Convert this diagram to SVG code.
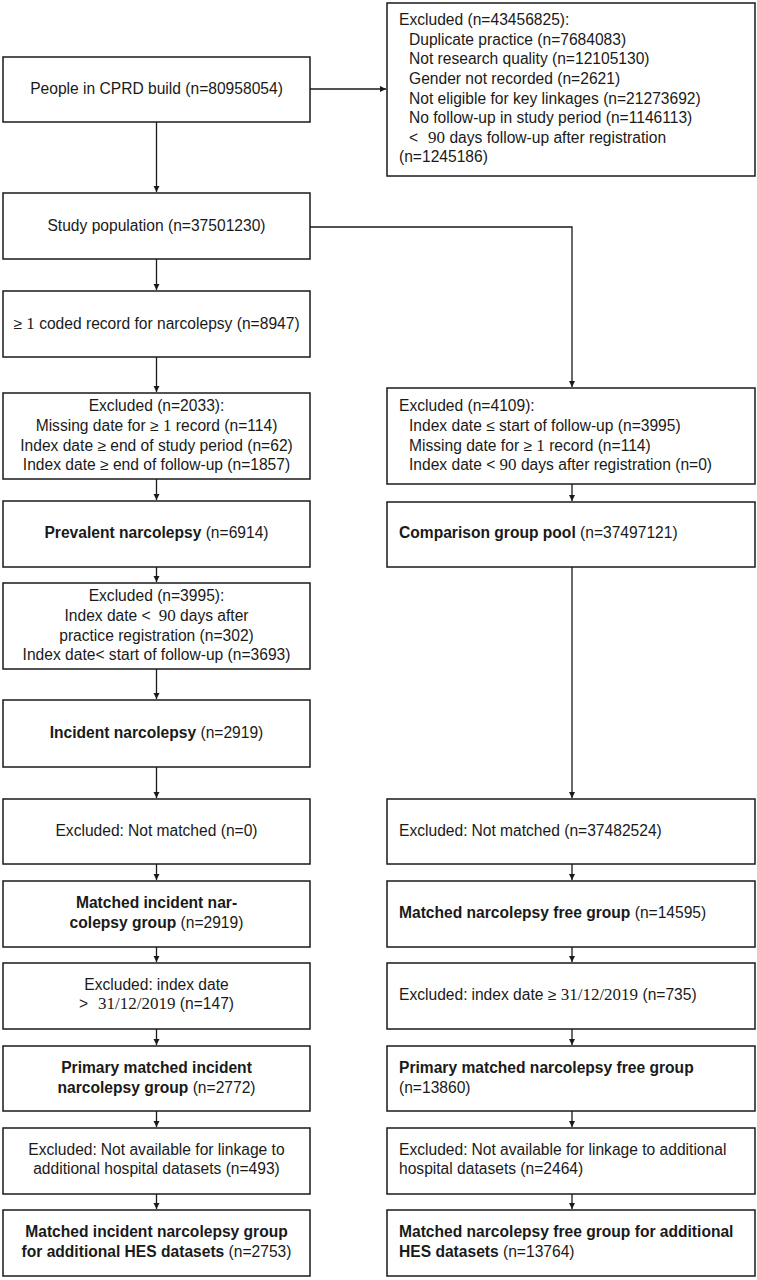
<svg xmlns="http://www.w3.org/2000/svg" width="757" height="1280" viewBox="0 0 757 1280">
<defs>
<style>
.box{fill:#fff;stroke:#1a1a1a;stroke-width:1.5}
.t{font-family:"Liberation Sans",Arial,sans-serif;font-size:15.6px;fill:#1a1a1a}
.c{text-anchor:middle}
.b{font-weight:bold}
.m{font-family:"Liberation Serif","Times New Roman",serif;font-size:17px}
.conn path{fill:none;stroke:#1a1a1a;stroke-width:1.3;marker-end:url(#arr)}
</style>
<marker id="arr" markerUnits="userSpaceOnUse" markerWidth="8" markerHeight="8" refX="6" refY="3" orient="auto">
<path d="M0,0 L6,3 L0,6 Z" fill="#1a1a1a"/>
</marker>
</defs>
<rect width="757" height="1280" fill="#fff"/>

<g id="connectors" class="conn">
<path d="M310,89 H386"/>
<path d="M156.5,122 V192"/>
<path d="M310,227 H572 V387"/>
<path d="M156.5,259 V290"/>
<path d="M156.5,357 V392"/>
<path d="M156.5,479 V500"/>
<path d="M572,484 V501"/>
<path d="M156.5,567 V582"/>
<path d="M156.5,669 V699"/>
<path d="M156.5,767 V798"/>
<path d="M572,567 V798"/>
<path d="M156.5,864 V880"/>
<path d="M572,864 V880"/>
<path d="M156.5,947 V962"/>
<path d="M572,947 V962"/>
<path d="M156.5,1029 V1045"/>
<path d="M572,1029 V1045"/>
<path d="M156.5,1111 V1127"/>
<path d="M572,1111 V1127"/>
<path d="M156.5,1194 V1209"/>
<path d="M572,1194 V1209"/>
</g>

<g id="n-cprd">
<rect class="box" x="3" y="57" width="307" height="65"/>
<text class="t c" x="156.5" y="94">People in CPRD build (n=80958054)</text>
</g>

<g id="n-excl1">
<rect class="box" x="387" y="3" width="368" height="173"/>
<text class="t" x="399" y="25">Excluded (n=43456825):</text>
<text class="t" x="409" y="45">Duplicate practice (n=7684083)</text>
<text class="t" x="409" y="64">Not research quality (n=12105130)</text>
<text class="t" x="409" y="84">Gender not recorded (n=2621)</text>
<text class="t" x="409" y="104">Not eligible for key linkages (n=21273692)</text>
<text class="t" x="409" y="123">No follow-up in study period (n=1146113)</text>
<text class="t" x="409" y="143">&lt;<tspan class="m" dx="10">90</tspan> days follow-up after registration</text>
<text class="t" x="399" y="162">(n=1245186)</text>
</g>

<g id="n-study">
<rect class="box" x="3" y="193" width="307" height="66"/>
<text class="t c" x="156.5" y="231">Study population (n=37501230)</text>
</g>

<g id="n-coded">
<rect class="box" x="3" y="291" width="307" height="66"/>
<text class="t c" x="156.5" y="329">≥ <tspan class="m">1</tspan> coded record for narcolepsy (n=8947)</text>
</g>

<g id="n-excl2033">
<rect class="box" x="3" y="393" width="307" height="86"/>
<text class="t c" x="156.5" y="411">Excluded (n=2033):</text>
<text class="t c" x="156.5" y="431">Missing date for ≥ <tspan class="m">1</tspan> record (n=114)</text>
<text class="t c" x="156.5" y="451">Index date ≥ end of study period (n=62)</text>
<text class="t c" x="156.5" y="470">Index date ≥ end of follow-up (n=1857)</text>
</g>

<g id="n-excl4109">
<rect class="box" x="387" y="388" width="368" height="96"/>
<text class="t" x="399" y="411">Excluded (n=4109):</text>
<text class="t" x="409" y="431">Index date ≤ start of follow-up (n=3995)</text>
<text class="t" x="409" y="451">Missing date for ≥ <tspan class="m">1</tspan> record (n=114)</text>
<text class="t" x="409" y="470">Index date &lt; <tspan class="m">90</tspan> days after registration (n=0)</text>
</g>

<g id="n-prevalent">
<rect class="box" x="3" y="501" width="307" height="66"/>
<text class="t c" x="156.5" y="538"><tspan class="b">Prevalent narcolepsy</tspan> (n=6914)</text>
</g>

<g id="n-pool">
<rect class="box" x="387" y="502" width="368" height="65"/>
<text class="t" x="399" y="538"><tspan class="b">Comparison group pool</tspan> (n=37497121)</text>
</g>

<g id="n-excl3995">
<rect class="box" x="3" y="583" width="307" height="86"/>
<text class="t c" x="156.5" y="601">Excluded (n=3995):</text>
<text class="t c" x="156.5" y="621">Index date &lt;<tspan class="m" dx="8">90</tspan> days after</text>
<text class="t c" x="156.5" y="641">practice registration (n=302)</text>
<text class="t c" x="156.5" y="660">Index date&lt; start of follow-up (n=3693)</text>
</g>

<g id="n-incident">
<rect class="box" x="3" y="700" width="307" height="67"/>
<text class="t c" x="156.5" y="738"><tspan class="b">Incident narcolepsy</tspan> (n=2919)</text>
</g>

<g id="n-notmatched-l">
<rect class="box" x="3" y="799" width="307" height="65"/>
<text class="t c" x="156.5" y="836">Excluded:<tspan dx="4">Not matched (n=0)</tspan></text>
</g>

<g id="n-notmatched-r">
<rect class="box" x="387" y="799" width="368" height="65"/>
<text class="t" x="399" y="836">Excluded:<tspan dx="4">Not matched (n=37482524)</tspan></text>
</g>

<g id="n-matched-l">
<rect class="box" x="3" y="881" width="307" height="66"/>
<text class="t c b" x="156.5" y="908">Matched incident nar-</text>
<text class="t c" x="156.5" y="928"><tspan class="b">colepsy group</tspan> (n=2919)</text>
</g>

<g id="n-matched-r">
<rect class="box" x="387" y="881" width="368" height="66"/>
<text class="t" x="399" y="918"><tspan class="b">Matched narcolepsy free group</tspan> (n=14595)</text>
</g>

<g id="n-date-l">
<rect class="box" x="3" y="963" width="307" height="66"/>
<text class="t c" x="156.5" y="990">Excluded:<tspan dx="4">index date</tspan></text>
<text class="t c" x="156.5" y="1009">&gt;<tspan class="m" dx="10">31/12/2019</tspan> (n=147)</text>
</g>

<g id="n-date-r">
<rect class="box" x="387" y="963" width="368" height="66"/>
<text class="t" x="399" y="1000">Excluded:<tspan dx="4">index date ≥ </tspan><tspan class="m">31/12/2019</tspan> (n=735)</text>
</g>

<g id="n-primary-l">
<rect class="box" x="3" y="1046" width="307" height="65"/>
<text class="t c b" x="156.5" y="1073">Primary matched incident</text>
<text class="t c" x="156.5" y="1093"><tspan class="b">narcolepsy group</tspan> (n=2772)</text>
</g>

<g id="n-primary-r">
<rect class="box" x="387" y="1046" width="368" height="65"/>
<text class="t b" x="399" y="1073">Primary matched narcolepsy free group</text>
<text class="t" x="399" y="1093">(n=13860)</text>
</g>

<g id="n-link-l">
<rect class="box" x="3" y="1128" width="307" height="66"/>
<text class="t c" x="156.5" y="1155">Excluded:<tspan dx="4">Not available for linkage to</tspan></text>
<text class="t c" x="156.5" y="1174">additional hospital datasets (n=493)</text>
</g>

<g id="n-link-r">
<rect class="box" x="387" y="1128" width="368" height="66"/>
<text class="t" x="399" y="1155">Excluded:<tspan dx="4">Not available for linkage to additional</tspan></text>
<text class="t" x="399" y="1174">hospital datasets (n=2464)</text>
</g>

<g id="n-hes-l">
<rect class="box" x="3" y="1210" width="307" height="66"/>
<text class="t c b" x="156.5" y="1237">Matched incident narcolepsy group</text>
<text class="t c" x="156.5" y="1257"><tspan class="b">for additional HES datasets</tspan> (n=2753)</text>
</g>

<g id="n-hes-r">
<rect class="box" x="387" y="1210" width="368" height="66"/>
<text class="t b" x="399" y="1237">Matched narcolepsy free group for additional</text>
<text class="t" x="399" y="1257"><tspan class="b">HES datasets</tspan> (n=13764)</text>
</g>
</svg>
